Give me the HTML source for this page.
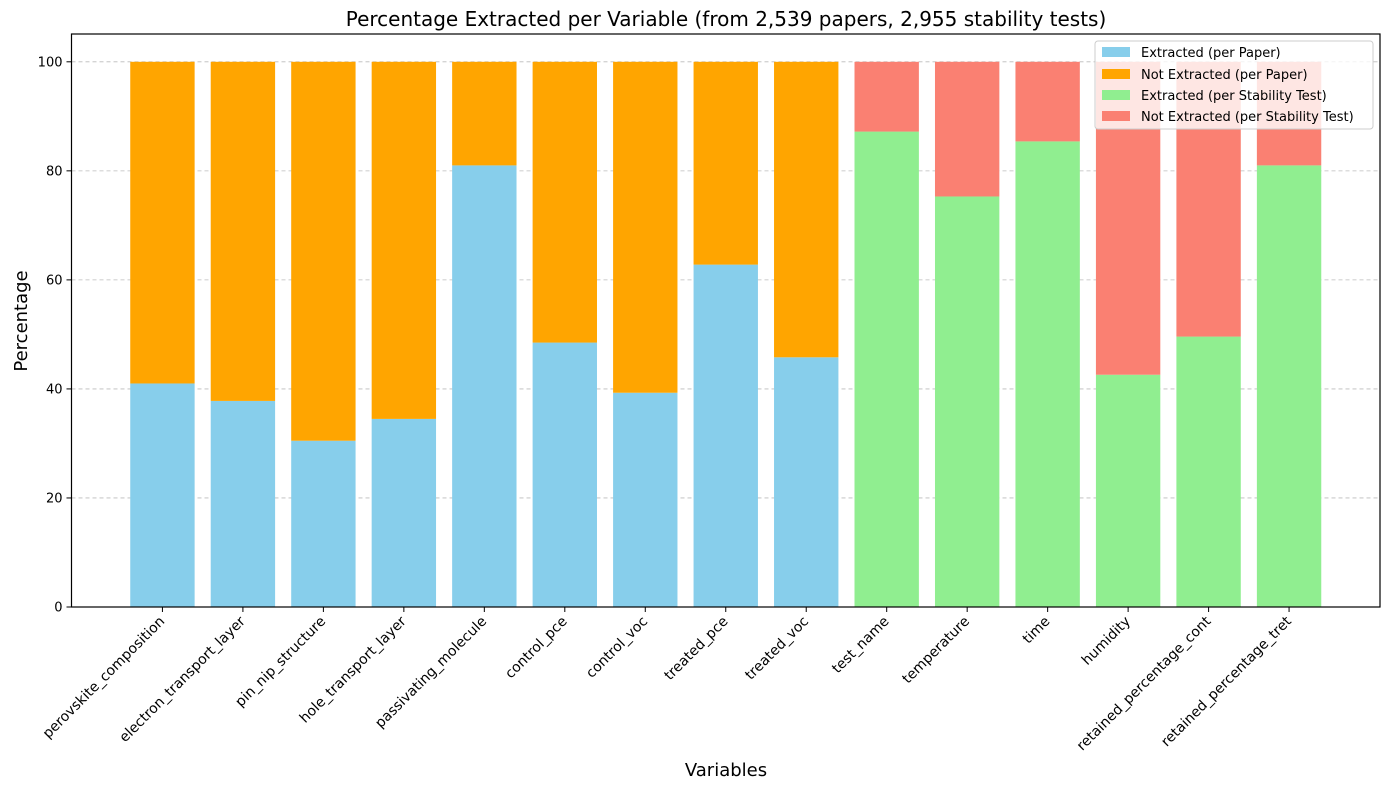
<!DOCTYPE html>
<html><head><meta charset="utf-8"><style>
body{margin:0;background:#fff;font-family:"Liberation Sans","DejaVu Sans",sans-serif}
svg text{font-family:"DejaVu Sans","Liberation Sans",sans-serif}
</style></head><body>
<svg id="chart" width="1389" height="790" xmlns="http://www.w3.org/2000/svg">
<rect width="1389" height="790" fill="#fff"/>
<g id="grid"></g><g id="bars"></g><g id="axes"></g>
<text x="726" y="26" font-size="20" text-anchor="middle">Percentage Extracted per Variable (from 2,539 papers, 2,955 stability tests)</text>
<text x="726" y="776" font-size="18" text-anchor="middle">Variables</text>
<text transform="translate(27,321) rotate(-90)" font-size="18" text-anchor="middle">Percentage</text>
<g>
<rect x="1095" y="41" width="278" height="88" fill="#fff" fill-opacity="0.8" stroke="#ccc" rx="3"/>
<g><rect x="1102" y="47" width="28" height="10" fill="#87CEEB"/><text x="1141" y="57" font-size="13">Extracted (per Paper)</text></g>
<g><rect x="1102" y="69" width="28" height="10" fill="#FFA500"/><text x="1141" y="79" font-size="13">Not Extracted (per Paper)</text></g>
<g><rect x="1102" y="90" width="28" height="10" fill="#90EE90"/><text x="1141" y="100" font-size="13">Extracted (per Stability Test)</text></g>
<g><rect x="1102" y="111" width="28" height="10" fill="#FA8072"/><text x="1141" y="121" font-size="13">Not Extracted (per Stability Test)</text></g>
</g>
</svg>
<script>
const categories=["perovskite_composition","electron_transport_layer","pin_nip_structure","hole_transport_layer","passivating_molecule","control_pce","control_voc","treated_pce","treated_voc","test_name","temperature","time","humidity","retained_percentage_cont","retained_percentage_tret"];
const extracted=[41,37.8,30.5,34.5,81,48.5,39.3,62.8,45.8,87.2,75.3,85.4,42.6,49.6,81];
const isPaper=[1,1,1,1,1,1,1,1,1,0,0,0,0,0,0];
const yTicks=[0,20,40,60,80,100];
const NS="http://www.w3.org/2000/svg";
const L=71.5,R=1380,T=34,B=607,xmin=-1.13,xmax=15.13,ymax=105.1;
const xs=v=>L+(v-xmin)/(xmax-xmin)*(R-L);
const ys=v=>B-v/ymax*(B-T);
function mk(tag,attrs,parent){const e=document.createElementNS(NS,tag);for(const k in attrs)e.setAttribute(k,attrs[k]);parent.appendChild(e);return e;}
const grid=document.getElementById('grid'),bars=document.getElementById('bars'),axes=document.getElementById('axes');
yTicks.forEach(t=>{
 const y=ys(t);
 if(t>0){const g=mk('line',{x1:L,x2:R,y1:y,y2:y,stroke:'#bbb','stroke-dasharray':'4,3','stroke-width':0.8},grid);
 
 }
 const tk=mk('line',{x1:L-5,x2:L,y1:y,y2:y,stroke:'#000'},axes);
 
 
 const tx=mk('text',{x:L-9,y:y+4.5,'font-size':13,'text-anchor':'end'},axes);tx.textContent=t;
 
 
});
const w=0.8;
categories.forEach((c,i)=>{
 const x0=xs(i-w/2),x1=xs(i+w/2),v=extracted[i];
 const cE=isPaper[i]?'#87CEEB':'#90EE90',cN=isPaper[i]?'#FFA500':'#FA8072';
 const a=mk('rect',{x:x0,y:ys(v),width:x1-x0,height:ys(0)-ys(v),fill:cE},bars);
 
 
 const b=mk('rect',{x:x0,y:ys(100),width:x1-x0,height:ys(v)-ys(100),fill:cN},bars);
 
 
 const cx=xs(i);
 const tk=mk('line',{x1:cx,x2:cx,y1:B,y2:B+5,stroke:'#000'},axes);
 
 
 const tx=mk('text',{x:cx+3,y:B+15,'font-size':14,'text-anchor':'end',transform:`rotate(-45 ${cx+3} ${B+15})`},axes);tx.textContent=c;
 
 
});
const fr=mk('rect',{x:L,y:T,width:R-L,height:B-T,fill:'none',stroke:'#000','stroke-width':1.2},axes);


</script>
</body></html>
